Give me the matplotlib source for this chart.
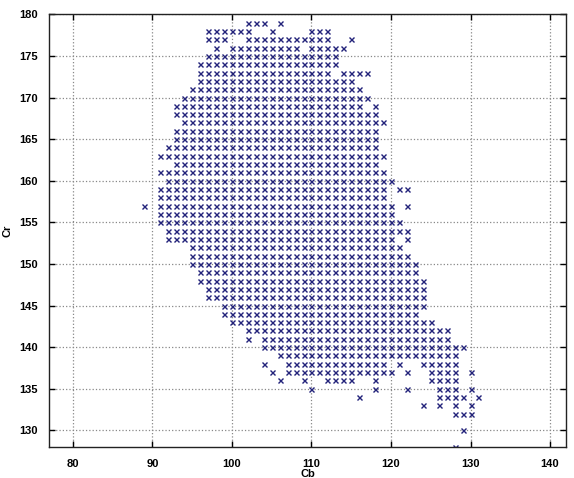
import numpy as np
import matplotlib
matplotlib.use("Agg")
import matplotlib.pyplot as plt

plt.rcParams['font.family'] = ['Liberation Sans', 'DejaVu Sans']

# Cr value of each row of samples, and the runs of Cb values (first, last) read in that row
cr_rows = [179, 178, 177, 176, 175, 174, 173, 172, 171, 170,
           169, 168, 167, 166, 165, 164, 163, 162, 161, 160,
           159, 158, 157, 156, 155, 154, 153, 152, 151, 150,
           149, 148, 147, 146, 145, 144, 143, 142, 141, 140,
           139, 138, 137, 136, 135, 134, 133, 132, 130, 128]
cb_runs = [
    [(102, 104), (106, 106)],
    [(97, 102), (105, 105), (110, 112)],
    [(97, 99), (102, 112), (115, 115)],
    [(98, 98), (100, 108), (110, 114)],
    [(97, 113)],
    [(96, 113)],
    [(96, 112), (114, 117)],
    [(96, 115)],
    [(95, 116)],
    [(94, 117)],
    [(93, 116), (118, 118)],
    [(93, 118)],
    [(94, 119)],
    [(93, 118)],
    [(93, 118)],
    [(92, 118)],
    [(91, 119)],
    [(93, 118)],
    [(91, 119)],
    [(92, 120)],
    [(91, 119), (121, 122)],
    [(91, 119)],
    [(89, 89), (91, 120), (122, 122)],
    [(91, 120)],
    [(91, 121)],
    [(92, 122)],
    [(92, 120), (122, 122)],
    [(95, 121)],
    [(95, 122)],
    [(95, 123)],
    [(96, 123)],
    [(96, 124)],
    [(97, 124)],
    [(97, 124)],
    [(99, 124)],
    [(99, 123)],
    [(100, 125)],
    [(102, 127)],
    [(102, 102), (104, 127)],
    [(104, 129)],
    [(106, 128)],
    [(104, 104), (107, 119), (121, 121), (124, 128)],
    [(105, 105), (107, 120), (122, 122), (125, 128), (130, 130)],
    [(106, 106), (109, 109), (112, 115), (118, 118), (125, 128)],
    [(110, 110), (118, 118), (122, 122), (126, 128), (130, 130)],
    [(116, 116), (126, 129), (131, 131)],
    [(124, 124), (126, 126), (128, 128), (130, 130)],
    [(128, 130)],
    [(129, 129)],
    [(128, 128)],
]

x_ticks = [80, 90, 100, 110, 120, 130, 140]
y_ticks = [130, 135, 140, 145, 150, 155, 160, 165, 170, 175, 180]

cb = []
cr = []
for row, runs in zip(cr_rows, cb_runs):
    for a, b in runs:
        for v in range(a, b + 1):
            cb.append(v)
            cr.append(row)

fig = plt.figure(figsize=(5.74, 4.78), dpi=100)
ax = fig.add_axes([0.0854, 0.065, 0.9006, 0.905])

ax.plot(cb, cr, linestyle='none', marker='x', markersize=3.6,
        markeredgewidth=1.0, color='#22227a')

ax.set_xlim(77, 142)
ax.set_ylim(128, 180)
ax.set_xticks(x_ticks)
ax.set_yticks(y_ticks)
ax.grid(True, linestyle=':', color='#888888', linewidth=0.9)
ax.set_axisbelow(True)

ax.tick_params(direction='in', top=True, right=True, length=4, width=1,
               labelsize=8)
ax.tick_params(axis='x', pad=9)
ax.tick_params(axis='y', pad=8)
for lab in ax.get_xticklabels() + ax.get_yticklabels():
    lab.set_fontweight('bold')
for sp in ax.spines.values():
    sp.set_linewidth(1.0)
    sp.set_color('#222222')

ax.set_xlabel('Cb', fontsize=8, fontweight='bold', labelpad=0)
ax.set_ylabel('Cr', fontsize=8, fontweight='bold', labelpad=5)

fig.savefig('out.png', dpi=100)
